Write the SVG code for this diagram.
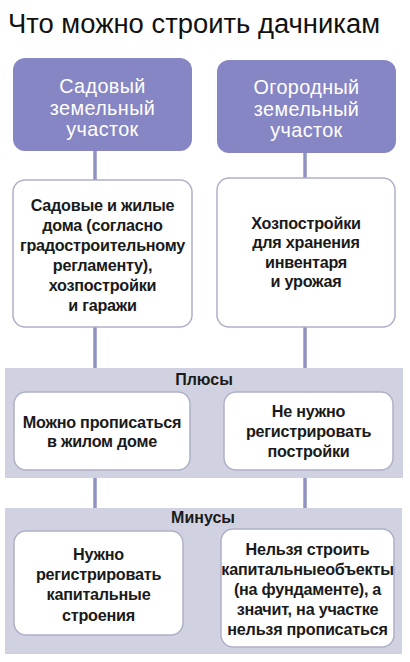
<svg xmlns="http://www.w3.org/2000/svg" width="410" height="662" viewBox="0 0 410 662">
<style>
.title{font-family:"Liberation Sans",Arial,sans-serif;font-size:27px;fill:#111;}
.head{fill:#8786c4;}
.headt{font-family:"Liberation Sans",Arial,sans-serif;font-size:19.8px;fill:#fff;text-anchor:middle;letter-spacing:0.4px;}
.box{fill:#fff;stroke:#aeb0c8;stroke-width:1.5;}
.band{fill:#d0d2e2;}
.t{font-family:"Liberation Sans",Arial,sans-serif;font-size:16.2px;font-weight:bold;fill:#1a1a1a;text-anchor:middle;letter-spacing:-0.25px;}
.lbl{font-family:"Liberation Sans",Arial,sans-serif;font-size:16px;font-weight:bold;fill:#1a1a1a;text-anchor:middle;}
.conn line{stroke:#8f93c1;stroke-width:3.5;}
</style>
<rect width="410" height="662" fill="#fff"/>
<text class="title" x="8" y="33" textLength="372" lengthAdjust="spacingAndGlyphs">Что можно строить дачникам</text>

<g class="conn" id="connectors">
<line x1="95" y1="150" x2="95" y2="181"/>
<line x1="95" y1="326" x2="95" y2="369"/>
<line x1="95" y1="477" x2="95" y2="509"/>
<line x1="305" y1="152" x2="305" y2="179"/>
<line x1="305" y1="326" x2="305" y2="369"/>
<line x1="305" y1="477" x2="305" y2="509"/>
</g>

<g id="sadovyi">
<rect class="head" x="13" y="58" width="179" height="93" rx="12"/>
<text class="headt" x="102.5"><tspan x="102.5" y="93">Садовый</tspan><tspan x="102.5" y="114.5">земельный</tspan><tspan x="102.5" y="136">участок</tspan></text>
</g>

<g id="ogorodnyi">
<rect class="head" x="217" y="60" width="179" height="93" rx="12"/>
<text class="headt" x="306.5"><tspan x="306.5" y="94">Огородный</tspan><tspan x="306.5" y="115.5">земельный</tspan><tspan x="306.5" y="137">участок</tspan></text>
</g>

<g id="sad-build">
<rect class="box" x="13" y="180" width="179" height="147" rx="12"/>
<text class="t"><tspan x="102.5" y="211">Садовые и жилые</tspan><tspan x="102.5" y="231">дома (согласно</tspan><tspan x="102.5" y="251">градостроительному</tspan><tspan x="102.5" y="271">регламенту),</tspan><tspan x="102.5" y="291">хозпостройки</tspan><tspan x="102.5" y="311">и гаражи</tspan></text>
</g>

<g id="ogo-build">
<rect class="box" x="217" y="178" width="178" height="149" rx="12"/>
<text class="t"><tspan x="306" y="229">Хозпостройки</tspan><tspan x="306" y="248">для хранения</tspan><tspan x="306" y="268">инвентаря</tspan><tspan x="306" y="287">и урожая</tspan></text>
</g>

<g id="plusy">
<rect class="band" x="5" y="368" width="398" height="110"/>
<text class="lbl" x="204" y="385">Плюсы</text>
</g>

<g id="plus-sad">
<rect class="box" x="14" y="392" width="176" height="78" rx="12"/>
<text class="t"><tspan x="102" y="428">Можно прописаться</tspan><tspan x="102" y="447">в жилом доме</tspan></text>
</g>

<g id="plus-ogo">
<rect class="box" x="224" y="392" width="169" height="78" rx="12"/>
<text class="t"><tspan x="308.5" y="417">Не нужно</tspan><tspan x="308.5" y="437">регистрировать</tspan><tspan x="308.5" y="457">постройки</tspan></text>
</g>

<g id="minusy">
<rect class="band" x="5" y="508" width="397" height="146"/>
<text class="lbl" x="203" y="523">Минусы</text>
</g>

<g id="minus-sad">
<rect class="box" x="14" y="531" width="169" height="104" rx="12"/>
<text class="t"><tspan x="98.5" y="560">Нужно</tspan><tspan x="98.5" y="580">регистрировать</tspan><tspan x="98.5" y="600">капитальные</tspan><tspan x="98.5" y="621">строения</tspan></text>
</g>

<g id="minus-ogo">
<rect class="box" x="221" y="529" width="173" height="118" rx="12"/>
<text class="t"><tspan x="307.5" y="555">Нельзя строить</tspan><tspan x="307.5" y="575">капитальныеобъекты</tspan><tspan x="307.5" y="595">(на фундаменте), а</tspan><tspan x="307.5" y="615">значит, на участке</tspan><tspan x="307.5" y="635">нельзя прописаться</tspan></text>
</g>
</svg>
